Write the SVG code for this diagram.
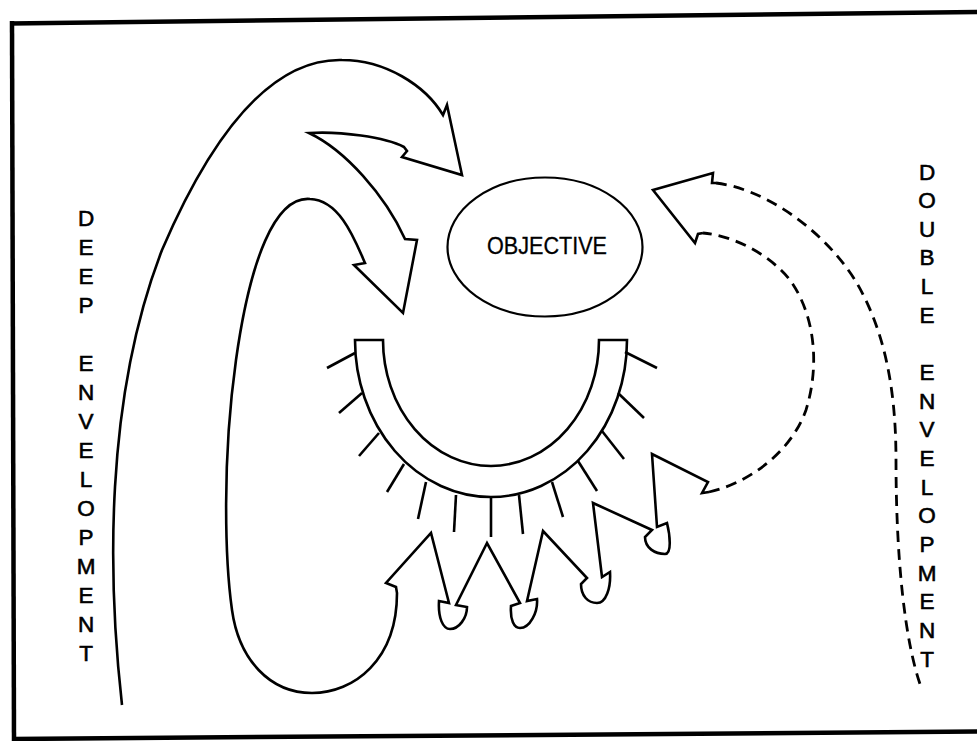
<svg xmlns="http://www.w3.org/2000/svg" width="977" height="741" viewBox="0 0 977 741">
<style>
.ln{fill:none;stroke:#000;stroke-width:2.6;stroke-linejoin:miter;stroke-miterlimit:8}
.dash{fill:none;stroke:#000;stroke-width:2.8;stroke-dasharray:11 7}
.tick{stroke:#000;stroke-width:2.6;stroke-linecap:butt}
.frame{stroke:#000;stroke-width:4.5;fill:none}
.lbl{font-family:"Liberation Sans",Arial,sans-serif;font-size:22.5px;fill:#000;stroke:#000;stroke-width:0.6;text-anchor:middle}
</style>
<rect width="977" height="741" fill="#fff"/>
<g id="frame">
<line class="frame" x1="10" y1="23.5" x2="977" y2="12"/>
<line class="frame" x1="12" y1="21" x2="14" y2="741"/>
<line class="frame" x1="12" y1="739" x2="977" y2="731.5"/>
</g>
<g id="objective">
<ellipse cx="545" cy="247" rx="97.5" ry="69.5" fill="#fff" stroke="#000" stroke-width="2.2"/>
<text x="487" y="253.5" font-family="'Liberation Sans',Arial,sans-serif" font-size="24.5" stroke="#000" stroke-width="0.3" textLength="120" lengthAdjust="spacingAndGlyphs">OBJECTIVE</text>
</g>
<g id="defended-position">
<path class="ln" d="M355,340 L383,340 A108,126 0 0 0 599,340 L627,340 A136,157 0 0 1 355,340 Z" style="fill:#fff"/>
<line class="tick" x1="355" y1="353" x2="327" y2="368"/>
<line class="tick" x1="362" y1="393" x2="339" y2="413"/>
<line class="tick" x1="379" y1="433" x2="359" y2="456"/>
<line class="tick" x1="404" y1="464" x2="387" y2="492"/>
<line class="tick" x1="426" y1="482" x2="418" y2="519"/>
<line class="tick" x1="456" y1="495" x2="454" y2="532"/>
<line class="tick" x1="491" y1="498" x2="491" y2="537"/>
<line class="tick" x1="519" y1="495" x2="523" y2="534"/>
<line class="tick" x1="552" y1="482" x2="563" y2="517"/>
<line class="tick" x1="578" y1="461" x2="597" y2="491"/>
<line class="tick" x1="602" y1="431" x2="624" y2="459"/>
<line class="tick" x1="618" y1="393" x2="644" y2="418"/>
<line class="tick" x1="625" y1="352" x2="657" y2="368"/>
</g>
<g id="label-deep">
<text class="lbl"><tspan x="86" y="226">D</tspan><tspan x="86" dy="29">E</tspan><tspan x="86" dy="29">E</tspan><tspan x="86" dy="29">P</tspan><tspan x="86" dy="58">E</tspan><tspan x="86" dy="29">N</tspan><tspan x="86" dy="29">V</tspan><tspan x="86" dy="29">E</tspan><tspan x="86" dy="29">L</tspan><tspan x="86" dy="29">O</tspan><tspan x="86" dy="29">P</tspan><tspan x="86" dy="29">M</tspan><tspan x="86" dy="29">E</tspan><tspan x="86" dy="29">N</tspan><tspan x="86" dy="29">T</tspan></text>
</g>
<g id="label-double">
<text class="lbl"><tspan x="927" y="179.5">D</tspan><tspan x="927" dy="28.65">O</tspan><tspan x="927" dy="28.65">U</tspan><tspan x="927" dy="28.65">B</tspan><tspan x="927" dy="28.65">L</tspan><tspan x="927" dy="28.65">E</tspan><tspan x="927" dy="57.3">E</tspan><tspan x="927" dy="28.65">N</tspan><tspan x="927" dy="28.65">V</tspan><tspan x="927" dy="28.65">E</tspan><tspan x="927" dy="28.65">L</tspan><tspan x="927" dy="28.65">O</tspan><tspan x="927" dy="28.65">P</tspan><tspan x="927" dy="28.65">M</tspan><tspan x="927" dy="28.65">E</tspan><tspan x="927" dy="28.65">N</tspan><tspan x="927" dy="28.65">T</tspan></text>
</g>
<g id="connectors">
<path id="envelopment-solid" class="ln" d="M122,705 C108,580 104,400 162,250 C205,150 265,58 342,60 C385,60 425,85 443,115 L447,105 L462,175 L402,157 L407,151 L404,147 C385,137 340,131 309,133 C345,150 385,195 405,239 L417,240 L403,313 L354,265 L365,263 C355,240 340,200 310,199 C275,196 250,260 236,360 C222,460 225,560 232,610 C239,660 270,693 312,693 C354,693 397,660 397,593 L396,587 L386,583 L431,533 L449,603 L439,601 C438,618 443,629 450,629 C459,629 467,618 467,607 L456,605 L487,543 L520,603 L511,606 C510,620 514,628 520,628 C530,628 538,612 537,599 L527,601 L543,531 L587,578 L581,584 C581,596 588,603 597,603 C606,603 611,588 610,572 L602,577 L593,503 L652,530 L645,537 C645,548 655,554 665,554 C672,554 670,535 667,523 L657,527 L652,454 L708,482 L702,493 L709,492"/>
<path id="double-inner" class="dash" d="M709,492 C745,484 790,455 806,410 C820,365 815,315 790,280 C770,255 735,236 703,233"/>
<path id="double-head" class="ln" d="M703,233 L698,234 L695,243 L653,190 L713,173 L712,183 L716,183"/>
<path id="double-outer" class="dash" d="M716,183 C760,188 820,225 855,280 C885,330 896,390 896,460 C896,560 905,640 920,684"/>
</g>
</svg>
